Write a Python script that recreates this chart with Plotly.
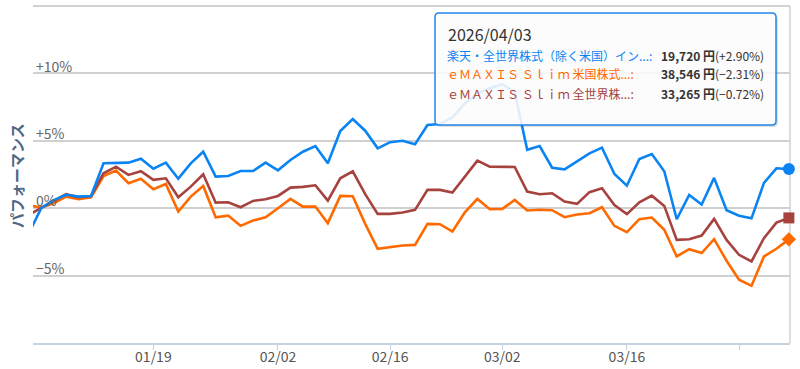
import plotly.graph_objects as go

# ---------------- data ----------------
dates = [
    "2025-12-30", "2026-01-05", "2026-01-06", "2026-01-07", "2026-01-08", "2026-01-09",
    "2026-01-13", "2026-01-14", "2026-01-15", "2026-01-16", "2026-01-19", "2026-01-20",
    "2026-01-21", "2026-01-22", "2026-01-23", "2026-01-26", "2026-01-27", "2026-01-28",
    "2026-01-29", "2026-01-30", "2026-02-02", "2026-02-03", "2026-02-04", "2026-02-05",
    "2026-02-06", "2026-02-09", "2026-02-10", "2026-02-12", "2026-02-13", "2026-02-16",
    "2026-02-17", "2026-02-18", "2026-02-19", "2026-02-20", "2026-02-24", "2026-02-25",
    "2026-02-26", "2026-02-27", "2026-03-02", "2026-03-03", "2026-03-04", "2026-03-05",
    "2026-03-06", "2026-03-09", "2026-03-10", "2026-03-11", "2026-03-12", "2026-03-13",
    "2026-03-16", "2026-03-17", "2026-03-18", "2026-03-19", "2026-03-23", "2026-03-24",
    "2026-03-25", "2026-03-26", "2026-03-27", "2026-03-30", "2026-03-31", "2026-04-01",
    "2026-04-02", "2026-04-03",
]

rakuten_ex_us = [
    -1.87, 0.00, 0.60, 1.00, 0.86, 0.90, 3.33, 3.38, 3.38, 3.67, 2.93, 3.38,
    2.19, 3.33, 4.19, 2.34, 2.39, 2.76, 2.76, 3.38, 2.81, 3.58, 4.19, 4.61,
    3.33, 5.72, 6.61, 5.75, 4.44, 4.90, 5.00, 4.74, 6.17, 6.24, 6.74, 7.78,
    8.50, 8.90, 9.20, 8.60, 4.33, 4.61, 3.00, 2.88, 3.50, 4.07, 4.49, 2.54,
    1.67, 3.65, 4.02, 2.74, -0.82, 0.98, 0.27, 2.25, -0.15, -0.56, -0.75, 1.88,
    2.96, 2.90,
]

slim_sp500 = [
    0.21, 0.05, 0.37, 0.86, 0.67, 0.81, 2.39, 2.79, 1.85, 2.19, 1.41, 1.80,
    -0.25, 0.86, 1.65, -0.67, -0.55, -1.31, -0.92, -0.67, 0.00, 0.69, 0.12, 0.12,
    -1.11, 0.91, 0.89, -1.16, -3.01, -2.88, -2.77, -2.72, -1.16, -1.19, -1.73, -0.30,
    0.69, -0.07, -0.05, 0.61, -0.17, -0.12, -0.15, -0.67, -0.47, -0.37, 0.07, -1.31,
    -1.78, -0.81, -0.69, -1.60, -3.58, -3.04, -3.33, -2.30, -3.90, -5.31, -5.76, -3.58,
    -3.01, -2.31,
]

slim_allcountry = [
    -0.49, 0.00, 0.54, 1.04, 0.81, 0.91, 2.59, 3.08, 2.47, 2.74, 2.10, 2.22,
    0.81, 1.60, 2.52, 0.41, 0.44, 0.07, 0.54, 0.67, 0.91, 1.53, 1.58, 1.70,
    0.56, 2.22, 2.74, 1.04, -0.42, -0.42, -0.32, -0.12, 1.36, 1.36, 1.16, 2.34,
    3.53, 3.08, 3.08, 3.06, 1.23, 1.04, 1.11, 0.49, 0.32, 1.19, 1.48, 0.24,
    -0.44, 0.44, 0.93, 0.17, -2.35, -2.30, -2.03, -0.79, -2.35, -3.46, -3.95, -2.22,
    -1.07, -0.72,
]

series_names = [
    "楽天・全世界株式（除く米国）イン...:",
    "ｅＭＡＸＩＳ Ｓｌｉｍ 米国株式...:",
    "ｅＭＡＸＩＳ Ｓｌｉｍ 全世界株...:",
]
series_prices = ["19,720 円", "38,546 円", "33,265 円"]
series_changes = ["(+2.90%)", "(−2.31%)", "(−0.72%)"]
tooltip_date = "2026/04/03"

x_tickvals = ["2026-01-05", "2026-01-19", "2026-02-02", "2026-02-16",
              "2026-03-02", "2026-03-16", "2026-03-30"]
x_ticktext = ["", "01/19", "02/02", "02/16", "03/02", "03/16", ""]
y_tickvals = [-10, -5, 0, 5, 10, 15]
y_ticktext = ["", "−5%", "0%", "+5%", "+10%", ""]

# ---------------- style ----------------
BLUE = "#0b84f3"
ORANGE = "#ff6a00"
BROWN = "#a6433f"
FONT = "Noto Sans CJK JP"

W, H = 800, 369
L, R, T, B = 33, 790, 6, 343


def pxx(p):
    return (p - L) / (R - L)


def pxy(p):
    return (B - p) / (B - T)


fig = go.Figure()

series = [
    (slim_sp500, ORANGE, "diamond", 11),
    (slim_allcountry, BROWN, "square", 11),
    (rakuten_ex_us, BLUE, "circle", 12),
]
for vals, col, sym, sz in series:
    fig.add_trace(go.Scatter(
        x=dates, y=vals, mode="lines",
        line=dict(color=col, width=2.6), hoverinfo="skip", showlegend=False,
    ))
for vals, col, sym, sz in series:
    fig.add_trace(go.Scatter(
        x=dates[-1:], y=vals[-1:], mode="markers",
        marker=dict(color=col, symbol=sym, size=sz, line=dict(width=0)),
        cliponaxis=False, hoverinfo="skip", showlegend=False,
    ))

# ---------------- tooltip box ----------------
bx0, bx1, by0, by1, rad = 435, 776, 13, 125, 4


def rounded_path(x0, y0, x1, y1, r):
    X = pxx
    Y = pxy
    return (
        f"M {X(x0 + r)},{Y(y0)} L {X(x1 - r)},{Y(y0)} "
        f"Q {X(x1)},{Y(y0)} {X(x1)},{Y(y0 + r)} "
        f"L {X(x1)},{Y(y1 - r)} Q {X(x1)},{Y(y1)} {X(x1 - r)},{Y(y1)} "
        f"L {X(x0 + r)},{Y(y1)} Q {X(x0)},{Y(y1)} {X(x0)},{Y(y1 - r)} "
        f"L {X(x0)},{Y(y0 + r)} Q {X(x0)},{Y(y0)} {X(x0 + r)},{Y(y0)} Z"
    )


shapes = [
    dict(type="line", xref="paper", yref="paper", x0=0, x1=1, y0=1, y1=1,
         line=dict(color="#d2d2d2", width=2), layer="below"),
    dict(type="line", xref="paper", yref="paper", x0=1, x1=1, y0=0, y1=1,
         line=dict(color="#d2d2d2", width=1.5), layer="below"),
    dict(type="path", xref="paper", yref="paper",
         path=rounded_path(bx0 + 2, by0 + 2, bx1 + 2, by1 + 2, rad),
         fillcolor="rgba(0,0,0,0.12)", line=dict(width=0), layer="above"),
    dict(type="path", xref="paper", yref="paper",
         path=rounded_path(bx0, by0, bx1, by1, rad),
         fillcolor="rgba(255,255,255,0.88)", line=dict(color="#2185e8", width=1.5),
         layer="above"),
]

annotations = [
    dict(text="パフォーマンス", xref="paper", yref="paper", x=pxx(16), y=pxy(176),
         xanchor="center", yanchor="middle", textangle=-90, showarrow=False,
         font=dict(family=FONT, size=15, color="#4d6785", weight="bold")),
    dict(text=tooltip_date, xref="paper", yref="paper", x=pxx(446), y=pxy(34),
         xanchor="left", yanchor="middle", showarrow=False,
         font=dict(family=FONT, size=16, color="#333333")),
]
row_y = [55, 74, 93]
row_cols = [BLUE, ORANGE, BROWN]
for i in range(3):
    annotations.append(dict(
        text=series_names[i], xref="paper", yref="paper", x=pxx(445), y=pxy(row_y[i]),
        xanchor="left", yanchor="middle", showarrow=False,
        font=dict(family=FONT, size=12, color=row_cols[i])))
    annotations.append(dict(
        text=f"<b>{series_prices[i]}</b>{series_changes[i]}", xref="paper", yref="paper",
        x=pxx(766), y=pxy(row_y[i]), xanchor="right", yanchor="middle", showarrow=False,
        font=dict(family=FONT, size=12, color="#333333")))

fig.update_layout(
    width=W, height=H,
    margin=dict(l=L, r=W - R, t=T, b=H - B),
    paper_bgcolor="white", plot_bgcolor="white",
    font=dict(family=FONT),
    shapes=shapes, annotations=annotations,
    hovermode=False,
    xaxis=dict(
        type="category", range=[0.34, 61.09], automargin=False,
        tickvals=x_tickvals, ticktext=x_ticktext,
        showgrid=False, zeroline=False,
        showline=True, linecolor="#c6d2e4", linewidth=1.5,
        ticks="outside", ticklen=5, tickcolor="#c6d2e4", tickwidth=1,
        ticklabelstandoff=-5,
        tickfont=dict(family=FONT, size=14, color="#555555"),
    ),
    yaxis=dict(
        range=[-10, 15], tickvals=y_tickvals, ticktext=y_ticktext, automargin=False,
        showgrid=True, gridcolor="#d0d0d0", gridwidth=1.5,
        zeroline=False, showline=False, ticks="",
        ticklabelposition="inside top", ticklabelshift=3,
        tickfont=dict(family=FONT, size=14, color="#666666"),
    ),
)

fig.write_html("out.html")
